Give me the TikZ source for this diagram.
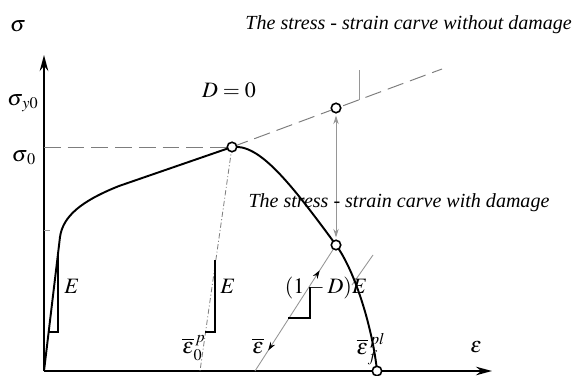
\documentclass[tikz,border=0pt]{standalone}
\usepackage{mathptmx}
\usepackage[no-math]{fontspec}
\setmainfont{Liberation Serif}
\usetikzlibrary{arrows.meta,calc,decorations.markings}
\definecolor{guidegrey}{RGB}{150,150,150}
\definecolor{dashgrey}{RGB}{125,125,125}
\tikzset{
  axisline/.style={
    draw=black,
    line width=1.3pt,
    -{Stealth[length=3.2mm,width=1.7mm]}
  },
  curveline/.style={
    draw=black,
    line width=1.1pt,
    line join=round
  },
  guideline/.style={
    draw=guidegrey,
    line width=0.5pt
  },
  longdash/.style={
    draw=dashgrey,
    line width=0.55pt,
    dash pattern=on 9.5pt off 4pt
  },
  dashdotline/.style={
    draw=dashgrey,
    line width=0.45pt,
    dash pattern=on 3pt off 1.3pt on 0.6pt off 1.3pt
  },
  triline/.style={
    draw=black,
    line width=0.9pt
  },
  pointmark/.style={
    circle,
    draw=black,
    fill=white,
    line width=0.9pt,
    minimum size=0.19cm,
    inner sep=0pt
  },
  lbl/.style={
    font=\fontsize{12.5}{14}\selectfont,
    inner sep=1pt
  },
  curvelbl/.style={
    font=\fontsize{11.4}{13}\selectfont\itshape,
    inner sep=1pt
  }
}

\begin{document}
\begin{tikzpicture}[x=1cm,y=1cm]

  \useasboundingbox (-0.88,-0.08) rectangle (10.64,7.42);

  % Key points of the stress-strain diagram.
  \coordinate (O)    at (0,0);
  \coordinate (Ytip) at (0,6.32);
  \coordinate (Xtip) at (8.96,0);
  \coordinate (P)    at (3.76,4.48);
  \coordinate (U)    at (5.84,5.26);
  \coordinate (Dend) at (7.96,6.04);
  \coordinate (L)    at (5.84,2.52);
  \coordinate (F)    at (6.66,0);
  \coordinate (Ep0)  at (3.12,0);
  \coordinate (Ebar) at (4.22,0);

  % Axes.
  \draw[axisline] (O) -- (Ytip);
  \draw[axisline] (O) -- (Xtip);

  % Reference lines: yield level, undamaged hardening branch and leader.
  \draw[longdash] (0,4.48) -- (P);
  \draw[longdash] (P) -- (Dend);
  \draw[guideline] (6.30,6.02) -- (6.30,5.42);
  \draw[guideline] (0,2.82) -- (0.12,2.82);

  % Elastic unloading lines.
  \draw[dashdotline] (P) -- (Ep0);
  \draw[guideline,postaction={decorate},
    decoration={markings,
      mark=at position 0.22 with {\arrow[black]{Stealth[length=1.7mm,width=1.1mm,reversed]}},
      mark=at position 0.80 with {\arrow[black]{Stealth[length=1.7mm,width=1.1mm]}}}]
    (Ebar) -- (L);
  \draw[guideline] (6.58,2.32) -- (6.16,1.72);

  % Stress-strain curve with damage.
  \draw[curveline] (O) -- (0.32,2.68)
    .. controls (0.38,3.10) and (0.75,3.40) .. (1.50,3.70) -- (P)
    .. controls (4.30,4.55) and (4.90,3.80) .. (L)
    .. controls (6.24,1.97) and (6.58,0.80) .. (F);

  % Slope triangles.
  \draw[triline] (0.10,0.78) -- (0.285,0.78) -- (0.285,2.39);
  \draw[triline] (3.22,0.78) -- (3.42,0.78) -- (3.42,2.22);
  \draw[triline] (4.88,1.06) -- (5.32,1.06) -- (5.32,1.68);

  % Marked states.
  \node[pointmark] (Pc) at (P) {};
  \node[pointmark] (Uc) at (U) {};
  \node[pointmark] (Lc) at (L) {};
  \node[pointmark] (Fc) at (F) {};
  \draw[guideline,{Stealth[length=1.7mm,width=1.1mm]}-{Stealth[length=1.7mm,width=1.1mm]},
    shorten <=1.2pt,shorten >=1.2pt] (Lc) -- (Uc);

  % Axis and curve labels.
  \node[lbl] (sig)    at (-0.52,6.90) {$\sigma$};
  \node[lbl] (sigy)   at (-0.42,5.36) {$\sigma_{\,y0}$};
  \node[lbl] (sig0)   at (-0.40,4.26) {$\sigma_{\,0}$};
  \node[lbl] (eps)    at (8.64,0.48) {$\epsilon$};
  \node[lbl] (dzero)  at (3.70,5.62) {$D=0$};
  \node[curvelbl,anchor=east] (nodmg) at (10.60,6.92)
    {The stress - strain carve without damage};
  \node[curvelbl] (dmg) at (7.10,3.36)
    {The stress - strain carve with damage};
  \node[lbl] (E1)  at (0.56,1.70) {$E$};
  \node[lbl] (E2)  at (3.68,1.70) {$E$};
  \node[lbl] (E3)  at (5.64,1.66) {$(1-D)E$};
  \node[lbl] (ep0) at (3.00,0.46) {$\overline{\epsilon}{}_{0}^{\,p}$};
  \node[lbl] (epb) at (4.28,0.50) {$\overline{\epsilon}$};
  \node[lbl] (epf) at (6.54,0.44) {$\overline{\epsilon}{}_{f}^{\,pl}$};

\end{tikzpicture}
\end{document}
